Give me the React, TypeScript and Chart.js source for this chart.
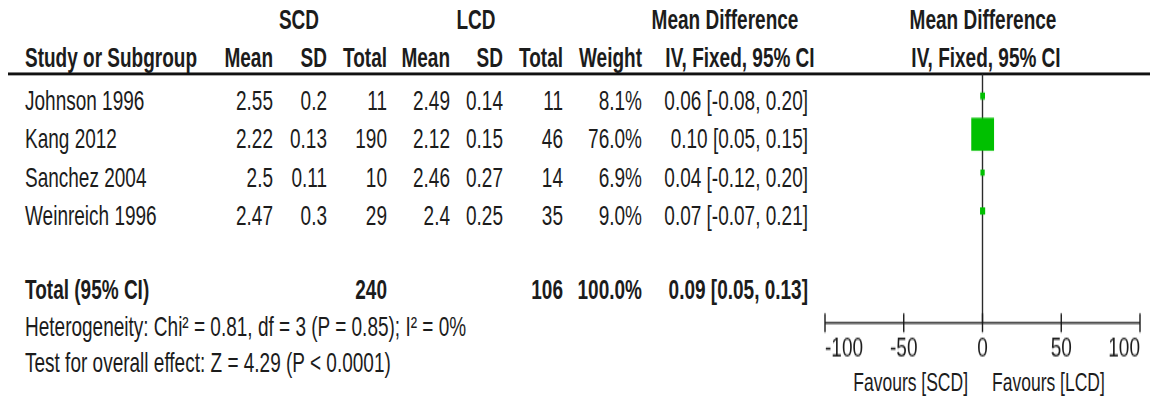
import React, { useEffect, useRef } from "react";
import { Chart, registerables } from "chart.js";

Chart.register(...registerables);

// ---------- data ----------
const studies = ["Johnson 1996", "Kang 2012", "Sanchez 2004", "Weinreich 1996"];
const scdMean = [2.55, 2.22, 2.5, 2.47];
const scdSD = [0.2, 0.13, 0.11, 0.3];
const scdTotal = [11, 190, 10, 29];
const lcdMean = [2.49, 2.12, 2.46, 2.4];
const lcdSD = [0.14, 0.15, 0.27, 0.25];
const lcdTotal = [11, 46, 14, 35];
const weights = [8.1, 76.0, 6.9, 9.0];
const meanDiff = [0.06, 0.1, 0.04, 0.07];
const ciLow = [-0.08, 0.05, -0.12, -0.07];
const ciHigh = [0.2, 0.15, 0.2, 0.21];
const totalLabel = "Total (95% CI)";
const totalSCD = 240;
const totalLCD = 106;
const totalWeight = 100.0;
const totalMD = 0.09;
const totalLow = 0.05;
const totalHigh = 0.13;
const chi2 = 0.81;
const hetDf = 3;
const hetP = 0.85;
const i2 = 0;
const zValue = 4.29;
const zP = "< 0.0001";
const xTicks = [-100, -50, 0, 50, 100];
const favoursLeft = "Favours [SCD]";
const favoursRight = "Favours [LCD]";

// ---------- layout (unscaled coordinates, page is stretched vertically) ----------
const W = 1150;
const H = 276;
const SCALE_Y = 400 / H;
const FONT = "'Liberation Sans', Arial, Helvetica, sans-serif";
const TEXT = "#1c1c1c";
const GREEN = "#00c000";
const ROW0 = 69.0;
const ROW_STEP = 26.57;
const PLOT_TOP = 51.06;
const PLOT_BOTTOM = 222.9;

const fmt2 = (v: number) => v.toFixed(2);
const ciText = (m: number, lo: number, hi: number) => `${fmt2(m)} [${fmt2(lo)}, ${fmt2(hi)}]`;

type TProps = {
  x: number;
  y: number;
  align: "left" | "right" | "center";
  bold?: boolean;
  size?: number;
  children: React.ReactNode;
};

function T({ x, y, align, bold, size = 19, children }: TProps) {
  const style: React.CSSProperties = {
    position: "absolute",
    top: y - 0.49 * size,
    whiteSpace: "nowrap",
    fontSize: size,
    lineHeight: `${size}px`,
    fontWeight: bold ? "bold" : "normal",
    color: TEXT,
  };
  if (align === "left") style.left = x;
  else if (align === "right") style.right = W - x;
  else {
    style.left = x;
    style.transform = "translateX(-50%)";
  }
  return <div style={style}>{children}</div>;
}

const forestPlugin = {
  id: "forestAxis",
  beforeDatasetsDraw(chart: any) {
    const { ctx, chartArea, scales } = chart;
    const x = scales.x;
    const y = scales.y;
    ctx.save();
    ctx.strokeStyle = "#2a2a2a";
    ctx.lineWidth = 1.4;
    const x0 = x.getPixelForValue(0);
    ctx.beginPath();
    ctx.moveTo(x0, chartArea.top);
    ctx.lineTo(x0, chartArea.bottom);
    ctx.stroke();
    // confidence interval whiskers
    ctx.lineWidth = 1;
    ctx.strokeStyle = "#000";
    meanDiff.forEach((_, i) => {
      const py = y.getPixelForValue(i);
      ctx.beginPath();
      ctx.moveTo(x.getPixelForValue(ciLow[i]), py);
      ctx.lineTo(x.getPixelForValue(ciHigh[i]), py);
      ctx.stroke();
    });
    ctx.restore();
  },
  afterDraw(chart: any) {
    const { ctx, chartArea, scales } = chart;
    const x = scales.x;
    const b = chartArea.bottom;
    ctx.save();
    ctx.strokeStyle = "#1a1a1a";
    ctx.lineWidth = 1.4;
    ctx.beginPath();
    ctx.moveTo(x.getPixelForValue(x.min), b);
    ctx.lineTo(x.getPixelForValue(x.max), b);
    x.ticks.forEach((t: any) => {
      const px = x.getPixelForValue(t.value);
      ctx.moveTo(px, b - 6.6);
      ctx.lineTo(px, b + 6.3);
    });
    ctx.stroke();
    ctx.restore();
  },
};

function ForestChart() {
  const ref = useRef<HTMLCanvasElement | null>(null);
  useEffect(() => {
    if (!ref.current) return;
    const chart = new Chart(ref.current, {
      type: "scatter",
      data: {
        datasets: [
          {
            data: meanDiff.map((v, i) => ({ x: v, y: i })),
            pointStyle: "rect",
            backgroundColor: GREEN,
            borderWidth: 0,
            pointRadius: (c: any) => (1.1 * Math.pow(weights[c.dataIndex] ?? 1, 0.7)) / Math.SQRT2,
            pointHoverRadius: (c: any) => (1.1 * Math.pow(weights[c.dataIndex] ?? 1, 0.7)) / Math.SQRT2,
          },
        ],
      },
      options: {
        responsive: false,
        animation: false,
        events: [],
        layout: { autoPadding: false, padding: { top: PLOT_TOP, bottom: 0, left: 25, right: 10 } },
        plugins: {
          legend: { display: false },
          tooltip: { enabled: false },
          title: { display: false },
        },
        scales: {
          x: {
            type: "linear",
            position: "bottom",
            min: -100,
            max: 100,
            afterBuildTicks: (s: any) => {
              s.ticks = xTicks.map((v) => ({ value: v }));
            },
            afterFit: (s: any) => {
              s.height = H - PLOT_BOTTOM;
            },
            grid: { display: false, drawTicks: false },
            border: { display: false },
            ticks: {
              align: "inner",
              maxRotation: 0,
              padding: 8.8,
              color: TEXT,
              font: { family: FONT, size: 19, lineHeight: 1 },
              callback: (v: any) => String(v),
            },
          },
          y: {
            type: "linear",
            display: false,
            reverse: true,
            min: -0.574,
            max: 5.927,
          },
        },
      } as any,
      plugins: [forestPlugin as any],
    });
    return () => chart.destroy();
  }, []);
  return (
    <canvas
      ref={ref}
      width={350}
      height={H}
      style={{ position: "absolute", left: 800, top: 0, width: 350, height: H }}
    />
  );
}

export default function App() {
  const hdr1 = 13.2;
  const hdr2 = 39.6;
  const rowY = (i: number) => ROW0 + ROW_STEP * i;
  const totalY = 199.0;
  const hetY = 225.5;
  const testY = 250.8;
  const favY = 264.6;
  return (
    <div
      style={{
        position: "absolute",
        left: 0,
        top: 0,
        width: W,
        height: H,
        background: "#fff",
        fontFamily: FONT,
        transform: `scaleY(${SCALE_Y})`,
        transformOrigin: "0 0",
        overflow: "hidden",
      }}
    >
      {/* header row 1 */}
      <T x={299} y={hdr1} align="center" bold>SCD</T>
      <T x={476} y={hdr1} align="center" bold>LCD</T>
      <T x={725} y={hdr1} align="center" bold>Mean Difference</T>
      <T x={983} y={hdr1} align="center" bold>Mean Difference</T>
      {/* header row 2 */}
      <T x={25} y={hdr2} align="left" bold>Study or Subgroup</T>
      <T x={273} y={hdr2} align="right" bold>Mean</T>
      <T x={327} y={hdr2} align="right" bold>SD</T>
      <T x={387} y={hdr2} align="right" bold>Total</T>
      <T x={450} y={hdr2} align="right" bold>Mean</T>
      <T x={503} y={hdr2} align="right" bold>SD</T>
      <T x={563} y={hdr2} align="right" bold>Total</T>
      <T x={642} y={hdr2} align="right" bold>Weight</T>
      <T x={740} y={hdr2} align="center" bold>IV, Fixed, 95% CI</T>
      <T x={986} y={hdr2} align="center" bold>IV, Fixed, 95% CI</T>
      {/* rule */}
      <div style={{ position: "absolute", left: 8, top: PLOT_TOP - 0.7, width: W - 8, height: 1.4, background: "#111" }} />
      {/* study rows */}
      {studies.map((s, i) => (
        <React.Fragment key={s}>
          <T x={25} y={rowY(i)} align="left">{s}</T>
          <T x={273} y={rowY(i)} align="right">{String(scdMean[i])}</T>
          <T x={327} y={rowY(i)} align="right">{String(scdSD[i])}</T>
          <T x={387} y={rowY(i)} align="right">{String(scdTotal[i])}</T>
          <T x={450} y={rowY(i)} align="right">{String(lcdMean[i])}</T>
          <T x={503} y={rowY(i)} align="right">{String(lcdSD[i])}</T>
          <T x={563} y={rowY(i)} align="right">{String(lcdTotal[i])}</T>
          <T x={642} y={rowY(i)} align="right">{weights[i].toFixed(1)}%</T>
          <T x={808} y={rowY(i)} align="right">{ciText(meanDiff[i], ciLow[i], ciHigh[i])}</T>
        </React.Fragment>
      ))}
      {/* total row */}
      <T x={25} y={totalY} align="left" bold>{totalLabel}</T>
      <T x={387} y={totalY} align="right" bold>{String(totalSCD)}</T>
      <T x={563} y={totalY} align="right" bold>{String(totalLCD)}</T>
      <T x={642} y={totalY} align="right" bold>{totalWeight.toFixed(1)}%</T>
      <T x={808} y={totalY} align="right" bold>{ciText(totalMD, totalLow, totalHigh)}</T>
      <T x={25} y={hetY} align="left">
        {`Heterogeneity: Chi² = ${fmt2(chi2)}, df = ${hetDf} (P = ${fmt2(hetP)}); I² = ${i2}%`}
      </T>
      <T x={25} y={testY} align="left">
        {`Test for overall effect: Z = ${fmt2(zValue)} (P ${zP})`}
      </T>
      <T x={968} y={favY} align="right" size={17.5}>{favoursLeft}</T>
      <T x={992} y={favY} align="left" size={17.5}>{favoursRight}</T>
      <ForestChart />
    </div>
  );
}
